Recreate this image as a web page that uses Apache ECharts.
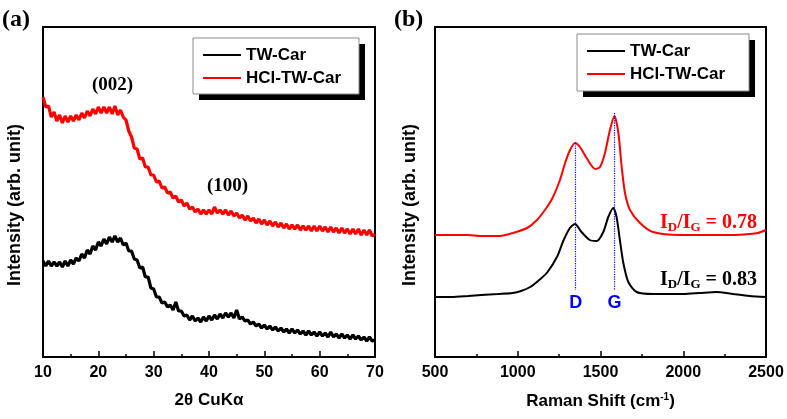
<!DOCTYPE html>
<html>
<head>
<meta charset="utf-8">
<script src="https://cdn.jsdelivr.net/npm/echarts@6/dist/echarts.min.js"></script>
<style>
  html, body { margin: 0; padding: 0; background: #fff; }
  #chart { width: 787px; height: 419px; }
</style>
</head>
<body>
<div id="chart"></div>
<script>
// XRD (a): 2theta from 10 to 70, one reading every 0.5 deg (arb. intensity)
const xrdStart = 10
const xrdStep = 0.5
const xrdTW = [96, 91, 96, 91, 95, 91, 95, 90, 96, 91, 97, 93, 99, 96, 103, 99, 107, 103, 111, 107,
  115, 111, 118, 113, 120, 115, 121, 115, 119, 112, 114, 106, 106, 98, 97, 89, 90, 80, 80, 69,
  68, 60, 60, 54, 55, 50, 52, 47, 55, 46, 46, 41, 42, 37, 41, 36, 39, 35, 40, 36,
  41, 37, 42, 38, 43, 39, 44, 40, 44, 39, 47, 38, 40, 36, 37, 33, 35, 31, 33, 29,
  32, 28, 31, 27, 30, 26, 29, 25, 28, 24, 28, 24, 27, 23, 26, 22, 26, 22, 25, 21,
  25, 21, 24, 20, 25, 20, 23, 19, 23, 19, 22, 18, 22, 18, 21, 17, 20, 16, 20, 16, 17]
const xrdHCl = [260, 250, 251, 240, 245, 236, 242, 234, 241, 235, 241, 236, 242, 237, 244, 239, 246, 241, 248, 243,
  250, 244, 250, 244, 250, 243, 251, 242, 247, 240, 237, 226, 220, 209, 208, 198, 199, 190, 190, 182,
  182, 175, 176, 169, 170, 164, 165, 159, 161, 155, 157, 151, 154, 148, 150, 145, 148, 143, 147, 143,
  147, 143, 150, 144, 147, 143, 147, 142, 146, 141, 144, 139, 142, 137, 141, 136, 139, 134, 138, 133,
  137, 132, 136, 131, 135, 130, 134, 129, 133, 128, 132, 128, 132, 127, 131, 127, 131, 126, 131, 126,
  131, 126, 130, 125, 130, 125, 129, 124, 129, 124, 128, 123, 128, 123, 128, 122, 127, 122, 127, 121, 123]

// Raman (b): [shift cm-1, intensity]
const ramanTW = [[500, 60], [600, 60], [700, 61], [780, 62], [880, 63], [970, 64], [1020, 66], [1075, 70],
  [1130, 77], [1180, 85], [1240, 101], [1275, 116], [1315, 129], [1346, 133], [1385, 125], [1435, 117],
  [1477, 116], [1517, 125], [1547, 140], [1577, 149], [1597, 140], [1617, 117], [1638, 94], [1668, 75],
  [1718, 65], [1820, 63], [1900, 63], [2000, 63], [2100, 64], [2200, 65], [2300, 63], [2400, 61], [2500, 60]]
const ramanHCl = [[500, 122], [600, 122], [700, 122], [772, 121], [893, 121], [971, 124], [1056, 129],
  [1116, 137], [1177, 150], [1213, 160], [1255, 177], [1286, 194], [1316, 207], [1346, 214], [1376, 210],
  [1416, 199], [1467, 188], [1497, 190], [1527, 204], [1557, 227], [1584, 241], [1608, 224], [1628, 190],
  [1648, 164], [1678, 147], [1739, 134], [1817, 125], [1980, 122], [2100, 122], [2200, 122], [2300, 122],
  [2400, 123], [2450, 124], [2500, 127]]

// D and G band positions
const bandNames = ['D', 'G']
const bandPos = [1350, 1585]
const bandTop = [214, 244]
const bandBottom = 67

const xrdTicks = [10, 70, 10]     // min, max, interval
const ramanTicks = [500, 2500, 500]

const sans = 'Liberation Sans, Arial, sans-serif'
const serif = 'Liberation Serif, Times New Roman, serif'

let myChart = echarts.init(document.getElementById('chart'))

function xAxisOpt(idx, ticks, name, extraRich) {
  return {
    type: 'value', gridIndex: idx,
    min: ticks[0], max: ticks[1], interval: ticks[2],
    name: name, nameLocation: 'middle', nameGap: 35,
    nameTextStyle: { fontFamily: sans, fontWeight: 'bold', fontSize: 17, color: '#000', rich: extraRich || {} },
    axisLine: { lineStyle: { color: '#000', width: 2 } },
    axisTick: { inside: true, length: 6, lineStyle: { color: '#000', width: 1.5 } },
    minorTick: { show: true, splitNumber: 2, length: 3, lineStyle: { color: '#000', width: 1.5 } },
    axisLabel: { fontFamily: sans, fontWeight: 'bold', fontSize: 16, color: '#000', margin: 8, formatter: v => String(v) },
    splitLine: { show: false }
  }
}
function yAxisOpt(idx) {
  return {
    type: 'value', gridIndex: idx, min: 0, max: 330,
    axisLine: { show: true, lineStyle: { color: '#000', width: 2 } },
    axisTick: { show: false }, axisLabel: { show: false }, splitLine: { show: false }
  }
}
function legendOpt(left, top) {
  return {
    left: left, top: top, orient: 'vertical', z: 10,
    data: ['TW-Car', 'HCl-TW-Car'],
    icon: 'rect', itemWidth: 38, itemHeight: 2, itemGap: 3,
    padding: [7, 14, 6, 10],
    backgroundColor: 'transparent', borderWidth: 0,
    textStyle: { fontFamily: sans, fontWeight: 'bold', fontSize: 17, color: '#000', lineHeight: 20 }
  }
}
// legend frame with the hard black drop shadow
function legendBox(x, y, w, h) {
  return [
    { type: 'rect', z: 5, shape: { x: x + 6, y: y + 6, width: w, height: h }, style: { fill: '#000' } },
    { type: 'rect', z: 6, shape: { x: x, y: y, width: w, height: h }, style: { fill: '#fff', stroke: '#8c8c8c', lineWidth: 1 } }
  ]
}
function ratioText(x, y, val, color) {
  return {
    type: 'text', left: x, top: y, z: 10,
    style: {
      text: '{b|I}{s|D}{b|/I}{s|G}{b| = ' + val + '}',
      rich: {
        b: { fontFamily: serif, fontWeight: 'bold', fontSize: 20, fill: color, lineHeight: 24 },
        s: { fontFamily: serif, fontWeight: 'bold', fontSize: 13, fill: color, lineHeight: 24, padding: [9, 0, 0, 0] }
      }
    }
  }
}
function yTitle(x) {
  return {
    type: 'text', x: x, y: 205, rotation: Math.PI / 2, z: 10,
    style: { text: 'Intensity (arb. unit)', fontFamily: sans, fontWeight: 'bold', fontSize: 18, fill: '#000', align: 'center', verticalAlign: 'middle' }
  }
}

let line = (name, x, y, data, color, w, smooth) => ({
  name: name, type: 'line', xAxisIndex: x, yAxisIndex: y, data: data,
  showSymbol: false, smooth: smooth || false,
  lineStyle: { color: color, width: w }, itemStyle: { color: color }
})

let options = {
  animation: false,
  grid: [
    { left: 43, top: 27, width: 332, height: 330, show: true, borderColor: '#000', borderWidth: 2 },
    { left: 435, top: 27, width: 331, height: 330, show: true, borderColor: '#000', borderWidth: 2 }
  ],
  xAxis: [
    xAxisOpt(0, xrdTicks, '2θ CuKα'),
    xAxisOpt(1, ramanTicks, 'Raman Shift (cm{sup|-1})', {
      sup: { fontFamily: sans, fontWeight: 'bold', fontSize: 10, color: '#000', verticalAlign: 'top', padding: [0, 0, 8, 0] }
    })
  ],
  yAxis: [yAxisOpt(0), yAxisOpt(1)],
  legend: [legendOpt(193, 38), legendOpt(577, 34)],
  series: [
    line('TW-Car', 0, 0, xrdTW.map((v, i) => [xrdStart + i * xrdStep, v]), '#000', 3.2),
    line('HCl-TW-Car', 0, 0, xrdHCl.map((v, i) => [xrdStart + i * xrdStep, v]), '#ff0000', 3.2),
    line('TW-Car', 1, 1, ramanTW, '#000', 2, 0.25),
    Object.assign(line('HCl-TW-Car', 1, 1, ramanHCl, '#ff0000', 2, 0.25), {
      markLine: {
        silent: true, symbol: 'none', label: { show: false },
        lineStyle: { color: '#0000ff', type: 'dotted', width: 1.2 },
        data: bandPos.map((p, i) => [{ coord: [p, bandTop[i]] }, { coord: [p, bandBottom] }])
      },
      markPoint: {
        symbol: 'circle', symbolSize: 0,
        label: { show: true, position: 'bottom', distance: 0, fontFamily: sans, fontWeight: 'bold', fontSize: 18, color: '#0000ff' },
        data: bandPos.map((p, i) => ({ coord: [p, bandBottom - 4], value: bandNames[i], label: { formatter: bandNames[i] } }))
      }
    })
  ],
  graphic: [
    ...legendBox(193, 38, 166, 56),
    ...legendBox(577, 34, 172, 57),
    yTitle(15),
    yTitle(410),
    { type: 'text', left: 2, top: 8, style: { text: '(a)', fontFamily: serif, fontWeight: 'bold', fontSize: 24, fill: '#000' } },
    { type: 'text', left: 394, top: 8, style: { text: '(b)', fontFamily: serif, fontWeight: 'bold', fontSize: 24, fill: '#000' } },
    { type: 'text', left: 92, top: 76, style: { text: '(002)', fontFamily: serif, fontWeight: 'bold', fontSize: 19, fill: '#000' } },
    { type: 'text', left: 207, top: 177, style: { text: '(100)', fontFamily: serif, fontWeight: 'bold', fontSize: 19, fill: '#000' } },
    ratioText(660, 212, '0.78', '#ff0000'),
    ratioText(660, 269, '0.83', '#000')
  ]
}
myChart.setOption(options)
</script>
</body>
</html>
